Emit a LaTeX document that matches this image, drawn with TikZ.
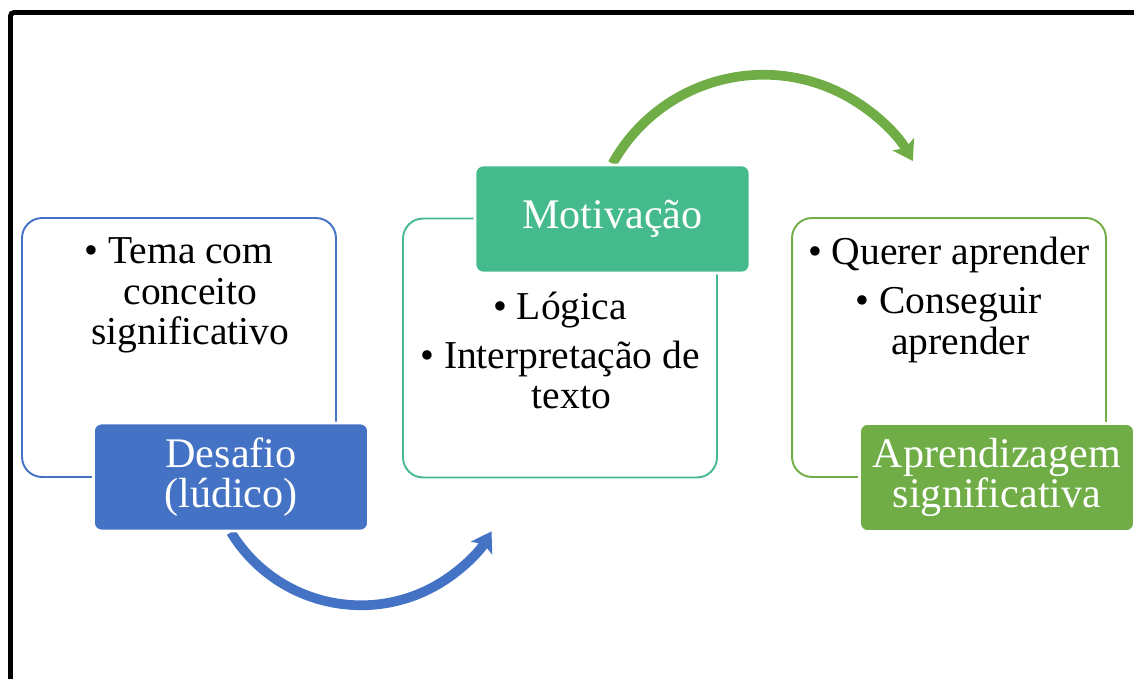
\documentclass[tikz,border=0pt]{standalone}
\usepackage{fontspec}
\setmainfont{Liberation Serif}
\usetikzlibrary{positioning,arrows.meta,backgrounds}
\definecolor{desafioblue}{RGB}{68,114,196}
\definecolor{motivteal}{RGB}{69,187,141}
\definecolor{aprendgreen}{RGB}{112,173,71}
\newcommand{\hang}{\hspace*{13pt}}
\tikzset{
  outline box/.style={
    draw=#1,
    line width=1.1pt,
    rounded corners=0.4cm,
    minimum width=6.28cm,
    minimum height=5.18cm
  },
  title box/.style={
    fill=#1,
    draw=white,
    line width=1.5pt,
    rounded corners=0.16cm,
    text=white,
    align=center,
    inner sep=0pt,
    font=\fontsize{24}{23}\selectfont,
    minimum width=5.5cm,
    minimum height=2.16cm
  },
  item text/.style={
    align=center,
    inner sep=0pt,
    font=\fontsize{22.5}{23.2}\selectfont
  },
  cycle arrow/.style={
    draw=#1,
    line width=5.5pt,
    -{Stealth[length=11pt,width=14pt,inset=2.5pt]}
  },
}

\begin{document}
\begin{tikzpicture}[x=0.02cm,y=-0.02cm]
    \clip (0,0) rectangle (1134,679);
    \draw[line width=2.8pt,rounded corners=2pt] (10.5,12.5) rectangle (1200,750);
    \node[outline box=desafioblue] (box1) at (179,347.5) {};
    \node[outline box=motivteal] (box2) at (560,348) {};
    \node[outline box=aprendgreen] (box3) at (949,347.5) {};
    \node[title box=desafioblue] (desafio) at (231,477) {Desafio\\(lúdico)};
    \node[title box=motivteal] (motivacao) at (612.5,219) {Motivação};
    \node[title box=aprendgreen] (aprendizagem) at (997,477.5) {Aprendizagem\\significativa};
    \node[item text,below=0.4cm of box1.north] (tema) {• Tema com\\\hang conceito\\\hang significativo};
    \node[item text,below=1.48cm of box2.north] (logica) {• Lógica\\[4.5pt]• Interpretação de\\\hang texto};
    \node[item text,below=0.4cm of box3.north] (querer) {• Querer aprender\\[4.5pt]• Conseguir\\\hang aprender};
    \begin{scope}[on background layer]
    \draw[cycle arrow=desafioblue] (desafio.south) arc[start angle=148.6,end angle=31,radius=152.3];
    \draw[cycle arrow=aprendgreen] (motivacao.north) arc[start angle=209,end angle=330,radius=172.6];
    \end{scope}
\end{tikzpicture}
\end{document}
